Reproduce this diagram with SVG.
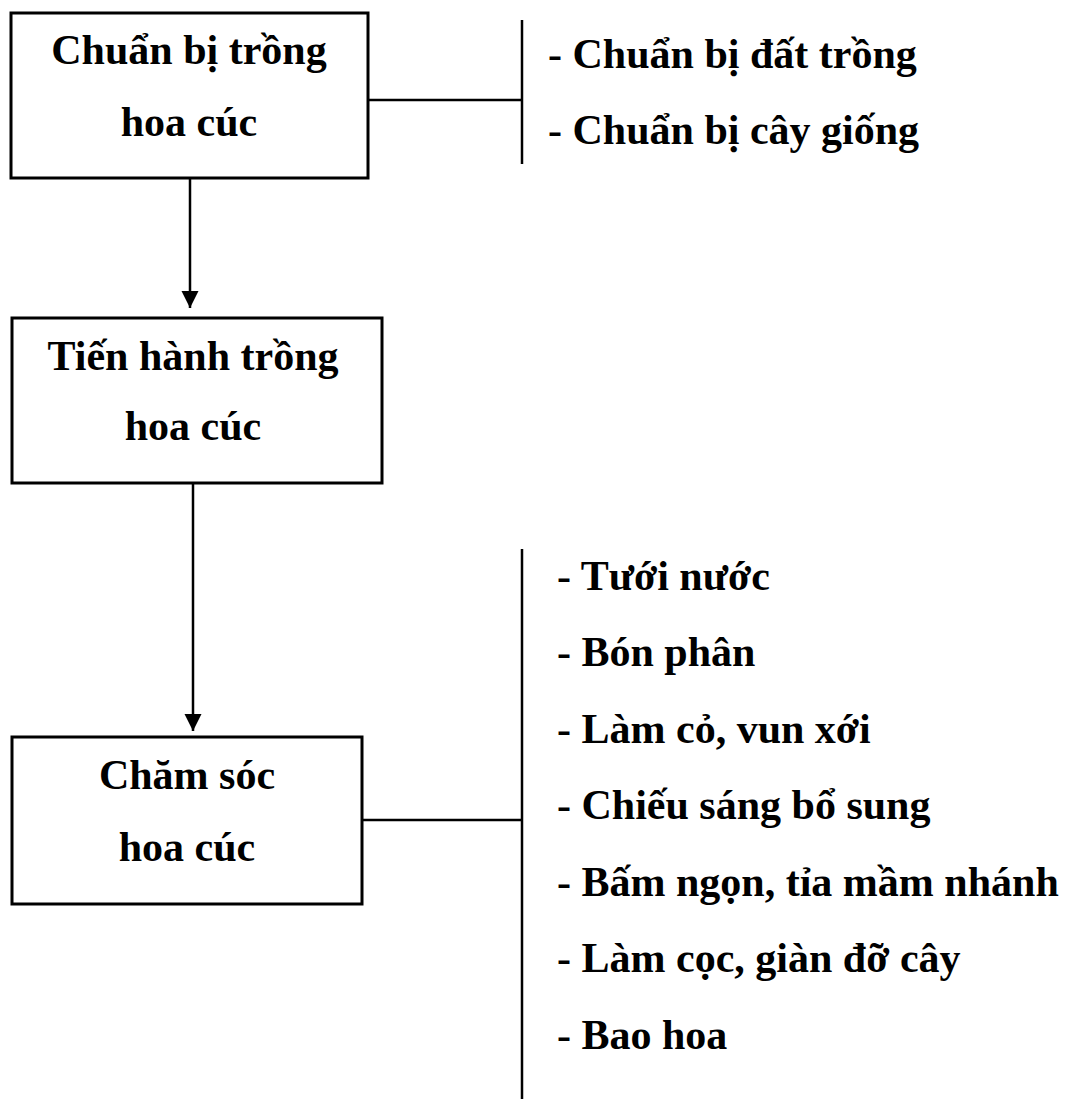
<svg xmlns="http://www.w3.org/2000/svg" width="1070" height="1099" viewBox="0 0 1070 1099">
  <style>
    .box { fill: #ffffff; stroke: #000000; stroke-width: 3; }
    .line { fill: none; stroke: #000000; stroke-width: 2.5; }
    .t { font-family: "Liberation Serif", "Times New Roman", serif; font-weight: bold; font-size: 42px; fill: #000000; }
    .c { text-anchor: middle; }
  </style>
  <defs>
    <marker id="arrow" viewBox="0 0 10 10" refX="10" refY="5" markerWidth="7" markerHeight="7" orient="auto" markerUnits="strokeWidth">
      <path d="M0,0 L10,5 L0,10 Z" fill="#000000"/>
    </marker>
  </defs>
  <rect width="1070" height="1099" fill="#ffffff"/>

  <!-- connectors -->
  <g id="connectors">
    <line class="line" x1="190" y1="179" x2="190" y2="308" marker-end="url(#arrow)"/>
    <line class="line" x1="193" y1="484" x2="193" y2="731" marker-end="url(#arrow)"/>
    <line class="line" x1="368" y1="100" x2="522" y2="100"/>
    <line class="line" x1="522" y1="20" x2="522" y2="164"/>
    <line class="line" x1="362" y1="820" x2="522" y2="820"/>
    <line class="line" x1="522" y1="549" x2="522" y2="1099"/>
  </g>

  <!-- step 1 -->
  <g id="node-chuan-bi">
    <rect class="box" x="11" y="13" width="357" height="165"/>
    <text class="t c" x="189" y="64">Chuẩn bị trồng</text>
    <text class="t c" x="189" y="136">hoa cúc</text>
  </g>

  <!-- step 2 -->
  <g id="node-tien-hanh">
    <rect class="box" x="12" y="318" width="370" height="165"/>
    <text class="t c" x="193" y="370">Tiến hành trồng</text>
    <text class="t c" x="193" y="440">hoa cúc</text>
  </g>

  <!-- step 3 -->
  <g id="node-cham-soc">
    <rect class="box" x="12" y="737" width="350" height="167"/>
    <text class="t c" x="187" y="789">Chăm sóc</text>
    <text class="t c" x="187" y="861">hoa cúc</text>
  </g>

  <!-- details of step 1 -->
  <g id="list-chuan-bi">
    <text class="t" x="548" y="68">- Chuẩn bị đất trồng</text>
    <text class="t" x="548" y="144">- Chuẩn bị cây giống</text>
  </g>

  <!-- details of step 3 -->
  <g id="list-cham-soc">
    <text class="t" x="557" y="590">- Tưới nước</text>
    <text class="t" x="557" y="666">- Bón phân</text>
    <text class="t" x="557" y="743">- Làm cỏ, vun xới</text>
    <text class="t" x="557" y="819">- Chiếu sáng bổ sung</text>
    <text class="t" x="557" y="896">- Bấm ngọn, tỉa mầm nhánh</text>
    <text class="t" x="557" y="972">- Làm cọc, giàn đỡ cây</text>
    <text class="t" x="557" y="1049">- Bao hoa</text>
  </g>
</svg>
